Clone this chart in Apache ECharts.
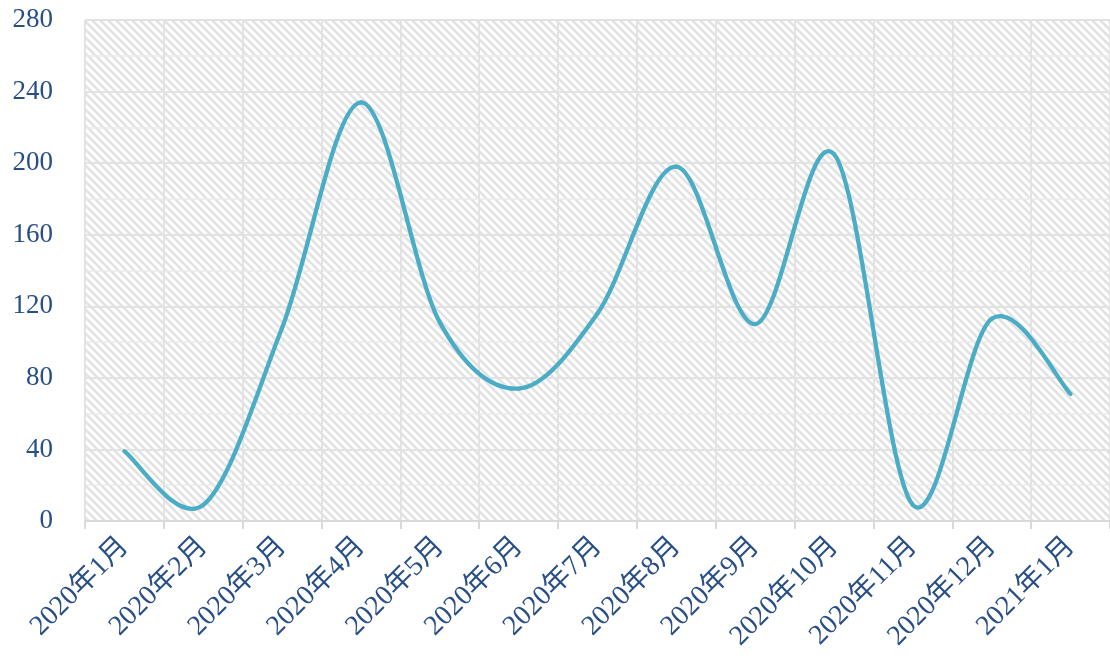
<!DOCTYPE html>
<html><head><meta charset="utf-8">
<script src="https://cdn.jsdelivr.net/npm/echarts@6/dist/echarts.min.js"></script>
<style>html,body{margin:0;padding:0;background:#fff}#c{width:1110px;height:663px}</style>
</head><body><div id="c"></div>
<script>
var categories = ['2020年1月','2020年2月','2020年3月','2020年4月','2020年5月','2020年6月','2020年7月','2020年8月','2020年9月','2020年10月','2020年11月','2020年12月','2021年1月'];
var values = [39, 9, 108, 234, 111, 74, 116, 198, 110, 205, 9, 113, 71];
var yMin = 0, yMax = 280, yStep = 40;

var pc = document.createElement('canvas');
pc.width = 8; pc.height = 8;
var g = pc.getContext('2d');
g.fillStyle = '#ffffff'; g.fillRect(0,0,8,8);
g.strokeStyle = '#e2e2e2'; g.lineWidth = 2.6;
[-8,0,8].forEach(function(k){ g.beginPath(); g.moveTo(k-2,-2); g.lineTo(k+10,10); g.stroke(); });

var n = values.length;
function renderSeg(params, api){
  var i = params.dataIndex;
  if (i >= n-1) return null;
  function P(k){ k = Math.max(0, Math.min(n-1, k)); return api.coord([k, values[k]]); }
  var p0 = P(i-1), p1 = P(i), p2 = P(i+1), p3 = P(i+2);
  var t = 1/6;
  return {
    type:'bezierCurve',
    shape:{x1:p1[0],y1:p1[1],x2:p2[0],y2:p2[1],
      cpx1:p1[0]+(p2[0]-p0[0])*t, cpy1:p1[1]+(p2[1]-p0[1])*t,
      cpx2:p2[0]-(p3[0]-p1[0])*t, cpy2:p2[1]-(p3[1]-p1[1])*t},
    style:{stroke:'#4bacc6',lineWidth:4.3,fill:null,lineCap:'round'}
  };
}

var chart = echarts.init(document.getElementById('c'));
var font = '"Liberation Serif","Times New Roman","Noto Sans CJK SC",serif';
chart.setOption({
  animation:false,
  grid:{left:85,right:0,top:20,bottom:142,show:true,borderWidth:0,backgroundColor:{image:pc,repeat:'repeat'}},
  xAxis:{type:'category',data:categories,boundaryGap:true,
    axisLine:{show:true,lineStyle:{color:'#d9d9d9',width:2}},
    axisTick:{show:true,length:8,lineStyle:{color:'#d9d9d9',width:2}},
    splitLine:{show:true,lineStyle:{color:'#e3e3e3',width:2}},
    axisLabel:{rotate:45,margin:21,fontFamily:font,fontSize:28,color:'#284e86'}},
  yAxis:{type:'value',min:yMin,max:yMax,interval:yStep,
    axisLine:{show:false},axisTick:{show:false},
    splitLine:{show:true,lineStyle:{color:'#e3e3e3',width:2}},
    minorTick:{show:false,splitNumber:2},
    minorSplitLine:{show:true,lineStyle:{color:'#ececec',width:1.5}},
    axisLabel:{margin:32,fontFamily:font,fontSize:27,color:'#284e86'}},
  series:[{type:'custom',data:values.map(function(v,i){return [i,v];}),
    encode:{x:0,y:1},renderItem:renderSeg,clip:false}]
});
</script></body></html>
